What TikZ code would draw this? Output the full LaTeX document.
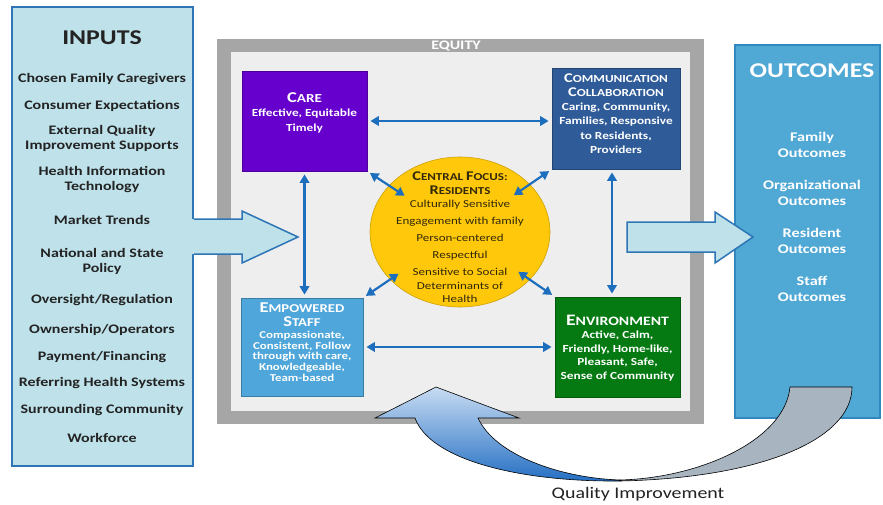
\documentclass[tikz,border=0pt]{standalone}
\usepackage{fontspec}
\setmainfont{Carlito}[FakeStretch=1.23]
\usepackage{tikz}
\usetikzlibrary{arrows.meta,calc,shapes.geometric}

\definecolor{inFill}{RGB}{190,225,234}
\definecolor{inLine}{RGB}{46,117,182}
\definecolor{inkText}{RGB}{35,35,35}
\definecolor{frameGray}{RGB}{166,166,166}
\definecolor{frameIn}{RGB}{238,238,238}
\definecolor{carePurple}{RGB}{102,0,204}
\definecolor{commBlue}{RGB}{47,92,153}
\definecolor{staffBlue}{RGB}{78,166,218}
\definecolor{envGreen}{RGB}{6,122,18}
\definecolor{focusYellow}{RGB}{255,200,10}
\definecolor{focusInk}{RGB}{50,40,10}
\definecolor{linkBlue}{RGB}{30,110,190}
\definecolor{outFill}{RGB}{80,168,212}
\definecolor{outLine}{RGB}{50,135,190}
\definecolor{qiLight}{RGB}{200,220,242}
\definecolor{qiDark}{RGB}{35,110,195}
\definecolor{qiGray}{RGB}{168,180,192}

\newcommand{\bigfirst}[3][13.3]{{\fontsize{#1}{14}\selectfont #2}#3}

\begin{document}
\begin{tikzpicture}[x=1pt, y=-1pt,
		card/.style={draw=#1!75!black, fill=#1, line width=0.8pt, inner sep=0pt},
		cardtext/.style={text=white, font=\bfseries\fontsize{10.8}{14}\selectfont, align=center, inner sep=0pt},
		link/.style={draw=linkBlue, line width=2.2pt, {Triangle[length=8.5pt,width=9.5pt]}-{Triangle[length=8.5pt,width=9.5pt]}, shorten <=3pt, shorten >=3pt},
		initem/.style={font=\bfseries\fontsize{13}{15}\selectfont, text=inkText, align=center, inner sep=0pt},
		outitem/.style={font=\bfseries\fontsize{13.2}{16}\selectfont, text=white, align=center, inner sep=0pt},
		bigarrow/.style={fill=inFill, draw=inLine, line width=1.5pt, line join=miter}]
		%%%%% START %%%%%
		\fill[white] (0,0) rectangle (883,505);
		\useasboundingbox (0,0) rectangle (883,505);
		
		% inputs panel
		\draw[fill=inFill, draw=inLine, line width=1.5pt] (12,7) rectangle (193,466);
		\node[font=\bfseries\fontsize{21}{24}\selectfont, text=inkText, inner sep=0pt] (inputs) at (102,38) {INPUTS};
		\node[initem] (chosen) at (102,79) {Chosen Family Caregivers};
		\node[initem] (consumer) at (102,106) {Consumer Expectations};
		\node[initem] (external) at (102,138.5) {External Quality\\Improvement Supports};
		\node[initem] (health) at (102,180) {Health Information\\Technology};
		\node[initem] (market) at (102,220) {Market Trends};
		\node[initem] (national) at (102,261) {National and State\\Policy};
		\node[initem] (oversight) at (102,300) {Oversight/Regulation};
		\node[initem] (ownership) at (102,330) {Ownership/Operators};
		\node[initem] (payment) at (102,357) {Payment/Financing};
		\node[initem] (referring) at (102,383) {Referring Health Systems};
		\node[initem] (surrounding) at (102,410) {Surrounding Community};
		\node[initem] (workforce) at (102,438) {Workforce};
		
		% equity frame
		\fill[frameGray] (217,39) rectangle (704,424);
		\fill[frameIn] (231,52) rectangle (690,411);
		\node[font=\bfseries\fontsize{13}{13}\selectfont, text=white, inner sep=0pt] (equity) at (456,46) {EQUITY};
		
		% arrow into the frame
		\fill[inFill] (191,219) -- (242,219) -- (242,211) -- (298,237) -- (242,263) -- (242,254) -- (191,254) -- cycle;
		\draw[draw=inLine, line width=1.5pt, line join=miter] (193.8,219) -- (242,219) -- (242,211) -- (298,237) -- (242,263) -- (242,254) -- (193.8,254);
		
		% four domains and the central focus
		\node[card=carePurple, minimum width=125pt, minimum height=100pt] (care) at (304.5,121) {};
		\node[card=commBlue, minimum width=128pt, minimum height=101pt] (comm) at (616,118.5) {};
		\node[card=staffBlue, minimum width=122pt, minimum height=98pt] (staff) at (302,347) {};
		\node[card=envGreen, minimum width=125pt, minimum height=100pt] (env) at (617.5,347) {};
		\node[ellipse, fill=focusYellow, draw=focusYellow!80!black, line width=0.6pt, minimum width=180pt, minimum height=150pt, inner sep=0pt] (focus) at (460,232) {};
		
		\node[cardtext, font=\bfseries\fontsize{10.8}{14.5}\selectfont] (careTxt) at (304.5,112.5) {{\fontsize{12.3}{14}\selectfont\bigfirst[15]{C}{ARE}}\\ Effective, Equitable\\ Timely};
		\node[cardtext, font=\bfseries\fontsize{10.8}{14.2}\selectfont] (commTxt) at (616,113.5) {\bigfirst{C}{OMMUNICATION}\\ \bigfirst{C}{OLLABORATION}\\ Caring, Community,\\ Families, Responsive\\ to Residents,\\ Providers};
		\node[cardtext, font=\bfseries\fontsize{10.5}{10.6}\selectfont] (staffTxt) at (302,342) {{\fontsize{12}{14}\selectfont\bigfirst[15]{E}{MPOWERED}}\\[3.4pt] {\fontsize{12}{14}\selectfont\bigfirst[15]{S}{TAFF}}\\[1.4pt] Compassionate,\\ Consistent, Follow\\ through with care,\\ Knowledgeable,\\ Team-based};
		\node[cardtext, font=\bfseries\fontsize{10.8}{13.5}\selectfont] (envTxt) at (617.5,348) {{\fontsize{12.8}{14}\selectfont\bigfirst[16]{E}{NVIRONMENT}}\\ Active, Calm,\\ Friendly, Home-like,\\ Pleasant, Safe,\\ Sense of Community};
		\node[text=focusInk, font=\fontsize{10.6}{13.5}\selectfont, align=center, inner sep=0pt] (focusTxt) at (460,237.5) {\textbf{\bigfirst{C}{ENTRAL} \bigfirst{F}{OCUS:}}\\ \textbf{\bigfirst{R}{ESIDENTS}}\\ Culturally Sensitive\\[3.5pt] Engagement with family\\[3.5pt] Person-centered\\[3.5pt] Respectful\\[3.5pt] Sensitive to Social\\ Determinants of\\ Health};
		
		% links
		\draw[link] (care.east) -- (care.east -| comm.west);
		\draw[link] (staff.east) -- (staff.east -| env.west);
		\draw[link] (care.south) -- (care.south |- staff.north);
		\draw[link] ([xshift=-4pt]comm.south) -- ([xshift=-4pt]comm.south |- env.north);
		\draw[link] (care.south east) -- ($(care.south east)!0.43!(focus.center)$);
		\draw[link] (comm.south west) -- ($(comm.south west)!0.44!(focus.center)$);
		\draw[link] (staff.north east) -- ($(staff.north east)!0.39!(focus.center)$);
		\draw[link] (env.north west) -- ($(env.north west)!0.41!(focus.center)$);
		
		% outcomes panel
		\draw[fill=outFill, draw=outLine, line width=1.2pt] (735,45) rectangle (880,418);
		\node[font=\bfseries\fontsize{21}{24}\selectfont, text=white, inner sep=0pt] (outcomes) at (812,71) {OUTCOMES};
		\node[outitem] (family) at (812,145) {Family\\Outcomes};
		\node[outitem] (organizational) at (812,193) {Organizational\\Outcomes};
		\node[outitem] (resident) at (812,241) {Resident\\Outcomes};
		\node[outitem] (staffout) at (812,289) {Staff\\Outcomes};
		
		% arrow out of the frame
		\draw[bigarrow] (627,222) -- (715,222) -- (715,212) -- (753,237) -- (715,263) -- (715,252) -- (627,252) -- cycle;
		
		% quality improvement loop
		\draw[fill=qiGray, line width=0.6pt] (620,481) .. controls (760,478) and (852,440) .. (852,387) -- (790,387) .. controls (785,440) and (700,478) .. (620,480) -- cycle;
		\draw[top color=qiLight, bottom color=qiDark, line width=0.6pt, line join=miter] (620,481) .. controls (520,482) and (430,460) .. (415,418) -- (375,418) -- (436,387) -- (519,418) -- (478,418) .. controls (495,455) and (560,478) .. (620,480) -- cycle;
		\node[font=\fontsize{16.2}{18}\selectfont, text=inkText, inner sep=0pt] (quality) at (638,494) {Quality Improvement};
		%%%%% END %%%%%
\end{tikzpicture}
\end{document}
